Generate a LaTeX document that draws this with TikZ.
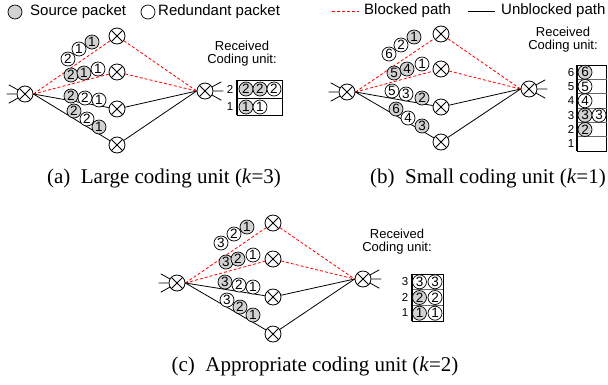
\documentclass[tikz,border=0pt]{standalone}
\usepackage{fontspec}
\setmainfont{Liberation Serif}
\newfontfamily\sansf{Liberation Sans}
\definecolor{pktgray}{RGB}{210,210,210}
\tikzset{
  wire/.style={line width=0.8pt},
  blocked/.style={wire, red, dash pattern=on 3pt off 2pt},
  unblocked/.style={wire, black},
  mixer/.style={circle, draw, line width=0.8pt, fill=white, minimum size=16pt, inner sep=0pt,
    path picture={\draw[line width=0.8pt]
      (path picture bounding box.north west) -- (path picture bounding box.south east)
      (path picture bounding box.north east) -- (path picture bounding box.south west);}},
  pkt/.style={circle, draw, line width=0.7pt, fill=white, minimum size=14pt, inner sep=0pt,
    font=\sansf\fontsize{13.5}{13.5}\selectfont},
  srcpkt/.style={pkt, fill=pktgray},
  lbl/.style={font=\sansf\fontsize{13}{15}\selectfont, align=center},
  rowlbl/.style={font=\sansf\fontsize{11.5}{12}\selectfont, inner sep=0pt},
  legend/.style={font=\sansf\fontsize{15}{17}\selectfont, anchor=west, inner sep=0pt},
  caption/.style={font=\fontsize{21}{24}\selectfont, inner sep=0pt},
  table/.style={line width=0.7pt},
  rowline/.style={line width=0.7pt, black!60},
}
% input/output fan of a coding node
\newcommand\infan[1]{%
  \draw[wire] (#1.150) -- ++(-9,-5) (#1.180) -- ++(-10,0) (#1.210) -- ++(-9,5);}
\newcommand\outfan[1]{%
  \draw[wire] (#1.30) -- ++(9,-5) (#1.0) -- ++(10,0) (#1.330) -- ++(9,5);}
\begin{document}
\begin{tikzpicture}[x=1pt,y=-1pt]
\useasboundingbox (0,0) rectangle (608,384);

% ---------- legend ----------
\node[srcpkt] (lg1) at (15,12) {};
\node[legend] (lt1) at (30,12) {Source packet};
\node[pkt] (lg2) at (148,12) {};
\node[legend] (lt2) at (158,12) {Redundant packet};
\coordinate (lb1) at (332,11);
\coordinate (lb2) at (359,11);
\draw[blocked] (lb1) -- (lb2);
\node[legend] (lt3) at (364,11) {Blocked path};
\coordinate (lu1) at (468,11);
\coordinate (lu2) at (495,11);
\draw[unblocked] (lu1) -- (lu2);
\node[legend] (lt4) at (501,11) {Unblocked path};

% ---------- (a) large coding unit ----------
\node[mixer] (sa) at (25,94) {};
\node[mixer] (ra1) at (117,36) {};
\node[mixer] (ra2) at (117,72) {};
\node[mixer] (ra3) at (117,109) {};
\node[mixer] (ra4) at (117,145) {};
\node[mixer] (da) at (205,91) {};
\infan{sa}\outfan{da}
\draw[blocked] (sa.east) -- (ra1) -- (da.west);
\draw[blocked] (sa.east) -- (ra2) -- (da.west);
\draw[unblocked] (sa.east) -- (ra3) -- (da.west);
\draw[unblocked] (sa.east) -- (ra4) -- (da.west);
\foreach \x/\y/\t/\s [count=\i] in {
  68/59/2/pkt, 79/49/1/pkt, 92/42/1/srcpkt,
  71/75/2/srcpkt, 84/73/1/srcpkt, 98/69/1/pkt,
  71/96/2/srcpkt, 85/98/2/pkt, 99/100/1/pkt,
  74/111/2/srcpkt, 87/119/2/pkt, 99/127/1/srcpkt}
  \node[\s] (pa\i) at (\x,\y) {\t};
\node[lbl] (rca) at (242,53.5) {Received\\[-2pt]Coding unit:};
\draw[table] (237,80) rectangle (282,115);
\draw[table] (237,98) -- (282,98);
\draw[line width=1.6pt] (237,80) -- (237,115);
\node[rowlbl] (ta2) at (230,89) {2};
\node[rowlbl] (ta1) at (230,107) {1};
\foreach \x/\y/\t/\s [count=\i] in {
  246/89/2/srcpkt, 260/89/2/srcpkt, 274/89/2/pkt,
  246/107/1/srcpkt, 260/107/1/pkt}
  \node[\s] (qa\i) at (\x,\y) {\t};
\node[caption] (capa) at (164,178) {(a)~ Large coding unit (\textit{k}=3)};

% ---------- (b) small coding unit ----------
\node[mixer] (sb) at (347,92) {};
\node[mixer] (rb1) at (441,34) {};
\node[mixer] (rb2) at (441,69) {};
\node[mixer] (rb3) at (441,107) {};
\node[mixer] (rb4) at (441,142) {};
\node[mixer] (db) at (529,89) {};
\infan{sb}\outfan{db}
\draw[blocked] (sb.east) -- (rb1) -- (db.west);
\draw[blocked] (sb.east) -- (rb2) -- (db.west);
\draw[unblocked] (sb.east) -- (rb3) -- (db.west);
\draw[unblocked] (sb.east) -- (rb4) -- (db.west);
\foreach \x/\y/\t/\s [count=\i] in {
  389/54/6/pkt, 401/45/2/pkt, 414/37/1/srcpkt,
  394/73/5/srcpkt, 407/69/4/srcpkt, 422/64/1/pkt,
  392/91/5/pkt, 406/94/3/pkt, 422/98/2/srcpkt,
  396/109/6/srcpkt, 408/118/4/pkt, 422/126/3/srcpkt}
  \node[\s] (pb\i) at (\x,\y) {\t};
\node[lbl] (rcb) at (563,40) {Received\\[-2pt]Coding unit:};
\draw[table] (577,65) rectangle (606.5,151);
\foreach \k in {1,...,5}
  \draw[rowline] (577,65+14.33*\k) -- (606.5,65+14.33*\k);
\draw[line width=1.6pt] (577,65) -- (577,151);
\foreach \r in {1,...,6}
  \node[rowlbl] (tb\r) at (571,151-14.33*\r+7.17) {\r};
\foreach \x/\y/\t/\s [count=\i] in {
  585/72.2/6/srcpkt, 585/86.5/5/pkt, 585/100.8/4/pkt,
  585/115.2/3/srcpkt, 599/115.2/3/pkt, 585/129.5/2/srcpkt}
  \node[\s] (qb\i) at (\x,\y) {\t};
\node[caption] (capb) at (488,178) {(b)~ Small coding unit (\textit{k}=1)};

% ---------- (c) appropriate coding unit ----------
\node[mixer] (sc) at (177,283) {};
\node[mixer] (rc1) at (273,223) {};
\node[mixer] (rc2) at (273,259) {};
\node[mixer] (rc3) at (273,297) {};
\node[mixer] (rc4) at (273,334) {};
\node[mixer] (dc) at (363,279) {};
\infan{sc}\outfan{dc}
\draw[blocked] (sc.east) -- (rc1) -- (dc.west);
\draw[blocked] (sc.east) -- (rc2) -- (dc.west);
\draw[unblocked] (sc.east) -- (rc3) -- (dc.west);
\draw[unblocked] (sc.east) -- (rc4) -- (dc.west);
\foreach \x/\y/\t/\s [count=\i] in {
  221/243/3/pkt, 234/234/2/pkt, 247/227/1/srcpkt,
  226/262/3/srcpkt, 238/259/2/srcpkt, 253/255/1/pkt,
  225/282/3/srcpkt, 239/285/2/pkt, 253/287/1/pkt,
  227/300/3/pkt, 240/307/2/srcpkt, 253/315/1/srcpkt}
  \node[\s] (pc\i) at (\x,\y) {\t};
\node[lbl] (rcc) at (397,242) {Received\\[-2pt]Coding unit:};
\draw[table] (412,274) rectangle (443,321);
\draw[rowline] (412,289.7) -- (443,289.7) (412,305.3) -- (443,305.3);
\draw[line width=1.6pt] (412,274) -- (412,321);
\node[rowlbl] (tc3) at (405,282) {3};
\node[rowlbl] (tc2) at (405,297.5) {2};
\node[rowlbl] (tc1) at (405,313) {1};
\foreach \x/\y/\t/\s [count=\i] in {
  419.5/281.8/3/pkt, 435/281.8/3/pkt,
  419.5/297.5/2/srcpkt, 435/297.5/2/pkt,
  419.5/313.2/1/srcpkt, 435/313.2/1/pkt}
  \node[\s] (qc\i) at (\x,\y) {\t};
\node[caption] (capc) at (315,366) {(c)~ Appropriate coding unit (\textit{k}=2)};
\end{tikzpicture}
\end{document}
